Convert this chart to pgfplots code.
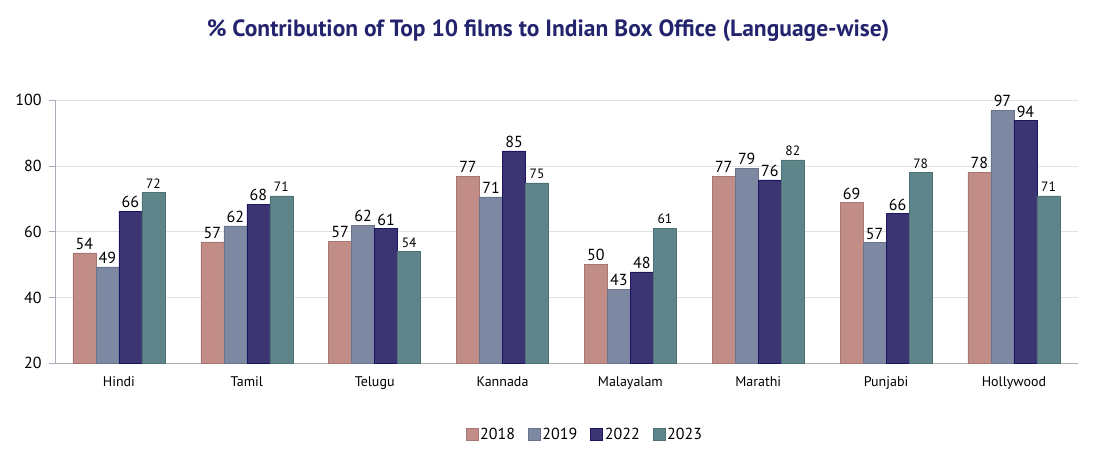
\documentclass[border=0pt]{standalone}
\usepackage{fontspec}
\setmainfont{PT Sans}
\usepackage{pgfplots}
\pgfplotsset{compat=1.18}
\definecolor{c18}{HTML}{C28C87}
\definecolor{c19}{HTML}{7D89A3}
\definecolor{c22}{HTML}{3B3574}
\definecolor{c23}{HTML}{5E8589}
\definecolor{ttl}{HTML}{24246E}
\definecolor{gridc}{HTML}{DDE0E4}
\definecolor{axc}{HTML}{A9AFBA}
\begin{document}
\begin{tikzpicture}
\useasboundingbox (-55bp,-91.7bp) rectangle (1055bp,363.3bp);
\node[font=\fontsize{23.5bp}{28bp}\selectfont\bfseries, text=ttl] at (493bp,333bp) {\% Contribution of Top 10 films to Indian Box Office (Language-wise)};
\begin{axis}[
  at={(0,0)}, anchor=south west,
  scale only axis, width=1023bp, height=263bp,
  xmin=-0.5, xmax=7.5, ymin=20, ymax=100,
  ytick={20,40,60,80,100},
  xtick={0,...,7},
  xticklabels={Hindi,Tamil,Telugu,Kannada,Malayalam,Marathi,Punjabi,Hollywood},
  ybar=0pt, bar width=0.18,
  ymajorgrids, grid style={gridc, line width=0.8pt},
  axis x line*=bottom, axis y line*=left,
  axis line style={axc, line width=0.8pt},
  x axis line style={-}, y axis line style={-},
  xtick style={draw=none},
  ytick style={axc, line width=0.8pt},
  tick align=outside, major tick length=6bp,
  yticklabel style={font=\fontsize{16bp}{18bp}\selectfont, xshift=-4bp},
  xticklabel style={font=\fontsize{14bp}{16bp}\selectfont, yshift=-4bp},
  /pgf/number format/assume math mode=true,
  nodes near coords,
  nodes near coords style={font=\fontsize{16bp}{18bp}\selectfont, inner sep=3bp},
  point meta=explicit symbolic,
  legend columns=4,
  legend style={at={(0.518,-0.27)}, anchor=center, draw=none, font=\fontsize{16bp}{18bp}\selectfont, /tikz/every even column/.append style={column sep=11bp}},
  legend image code/.code={\draw[#1] (0bp,-5.5bp) rectangle (12bp,6.5bp);},
]
\addplot[fill=c18, draw=c18!85!black, line width=0.5pt] coordinates {
(0,53.6)[54] (1,56.9)[57] (2,57.1)[57] (3,76.9)[77] (4,50.1)[50] (5,76.9)[77] (6,68.9)[69] (7,78.1)[78]};
\addplot[fill=c19, draw=c19!85!black, line width=0.5pt] coordinates {
(0,49.3)[49] (1,61.8)[62] (2,62.0)[62] (3,70.6)[71] (4,42.6)[43] (5,79.4)[79] (6,56.7)[57] (7,97.0)[97]};
\addplot[fill=c22, draw=c22!70!blue!60!black, line width=0.5pt] coordinates {
(0,66.3)[66] (1,68.4)[68] (2,61.0)[61] (3,84.6)[85] (4,47.8)[48] (5,75.8)[76] (6,65.5)[66] (7,93.8)[94]};
\addplot[fill=c23, draw=c23!85!black, line width=0.5pt, nodes near coords style={font=\fontsize{13.5bp}{16bp}\selectfont, inner sep=4bp}] coordinates {
(0,71.9)[72] (1,70.9)[71] (2,54.0)[54] (3,74.9)[75] (4,61.1)[61] (5,81.9)[82] (6,78.0)[78] (7,70.9)[71]};
\legend{2018,2019,2022,2023}
\end{axis}
\end{tikzpicture}
\end{document}
